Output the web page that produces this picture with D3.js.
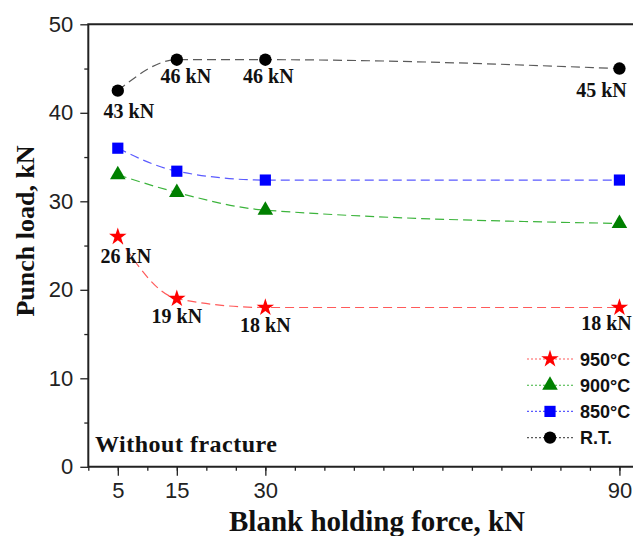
<!DOCTYPE html>
<html lang="en">
<head>
    <meta charset="UTF-8">
    <title>Punch load vs blank holding force</title>
    <style>
        body {
            margin: 0;
            background-color: #ffffff;
        }
        svg {
            display: block;
            background-color: #ffffff;
        }
    </style>
    <script src="https://d3js.org/d3.v7.min.js"></script>
</head>
<body>
    <svg width="633" height="536"></svg>
    <script>
        // data
        const forces = [5, 15, 30, 90];
        const seriesNames = ["950°C", "900°C", "850°C", "R.T."];
        const load950 = [26, 19, 18, 18];
        const load900 = [33, 31, 29, 27.5];
        const load850 = [36, 33.4, 32.4, 32.4];
        const loadRT = [42.5, 46, 46, 45];
        const labels950 = ["26 kN", "19 kN", "18 kN", "18 kN"];
        const labelsRT = ["43 kN", "46 kN", "46 kN", "45 kN"];
        const xTickLabels = [5, 15, 30, 90];
        const yTicks = [0, 10, 20, 30, 40, 50];

        const svg = d3.select("svg");
        const width = +svg.attr("width");
        const height = +svg.attr("height");

        const plotLeft = 88.3, plotTop = 24.3, plotBottom = 466.8;

        const x = d3.scaleLinear().domain([0, 92.3]).range([plotLeft, width]);
        const y = d3.scaleLinear().domain([0, 50]).range([plotBottom, plotTop]);

        const serif = "'Liberation Serif', 'Times New Roman', serif";
        const sans = "'Liberation Sans', Arial, sans-serif";

        const series = [
            {name: seriesNames[0], values: load950, color: "#ff0000", line: "#ff5a5a", symbol: d3.symbolStar, size: 95},
            {name: seriesNames[1], values: load900, color: "#008000", line: "#3cb43c", symbol: d3.symbolTriangle, size: 105},
            {name: seriesNames[2], values: load850, color: "#0000ff", line: "#5a5aff", symbol: d3.symbolSquare, size: 125},
            {name: seriesNames[3], values: loadRT, color: "#000000", line: "#5a5a5a", symbol: d3.symbolCircle, size: 120}
        ];

        // axes
        const xAxis = svg.append("g")
            .attr("transform", `translate(0,${plotBottom})`)
            .call(d3.axisBottom(x)
                .tickValues(d3.range(0, 91, 5))
                .tickSize(4)
                .tickFormat(""));
        xAxis.select(".domain").remove();
        xAxis.selectAll("line").attr("stroke", "#222").attr("stroke-width", 1.3);

        const xMajor = svg.append("g")
            .attr("transform", `translate(0,${plotBottom})`)
            .call(d3.axisBottom(x)
                .tickValues(xTickLabels)
                .tickSize(9)
                .tickPadding(7)
                .tickFormat(d3.format("d")));
        xMajor.select(".domain").remove();
        xMajor.selectAll("line").attr("stroke", "#222").attr("stroke-width", 1.3);
        xMajor.selectAll("text")
            .attr("font-family", sans)
            .attr("font-size", 22)
            .attr("fill", "#222");

        const yAxis = svg.append("g")
            .attr("transform", `translate(${plotLeft},0)`)
            .call(d3.axisLeft(y)
                .tickValues(d3.range(5, 50, 10))
                .tickSize(4)
                .tickFormat(""));
        yAxis.select(".domain").remove();
        yAxis.selectAll("line").attr("stroke", "#222").attr("stroke-width", 1.3);

        const yMajor = svg.append("g")
            .attr("transform", `translate(${plotLeft},0)`)
            .call(d3.axisLeft(y)
                .tickValues(yTicks)
                .tickSize(8)
                .tickPadding(7)
                .tickFormat(d3.format("d")));
        yMajor.select(".domain").remove();
        yMajor.selectAll("line").attr("stroke", "#222").attr("stroke-width", 1.3);
        yMajor.selectAll("text")
            .attr("font-family", sans)
            .attr("font-size", 22)
            .attr("fill", "#222");

        // frame (right side is cut off in the picture)
        svg.append("path")
            .attr("d", `M${width},${plotTop}H${plotLeft}V${plotBottom}H${width}`)
            .attr("fill", "none")
            .attr("stroke", "#222")
            .attr("stroke-width", 2);

        // lines
        const line = d3.line()
            .x((d, i) => x(forces[i]))
            .y(d => y(d))
            .curve(d3.curveMonotoneX);

        series.forEach(s => {
            svg.append("path")
                .attr("d", line(s.values))
                .attr("fill", "none")
                .attr("stroke", s.line)
                .attr("stroke-width", 1.2)
                .attr("stroke-dasharray", "9,5");
        });

        series.forEach(s => {
            svg.append("g").selectAll("path")
                .data(s.values)
                .join("path")
                .attr("transform", (d, i) => `translate(${x(forces[i])},${y(d)})`)
                .attr("d", d3.symbol().type(s.symbol).size(s.size))
                .attr("fill", s.color);
        });

        // value labels
        const rtOffsets = [[11, 27], [9, 23], [3, 23], [-18, 28]];
        const r950Offsets = [[8, 26], [0, 24], [0, 24], [-13, 22]];

        function addLabels(texts, values, offsets) {
            svg.append("g").selectAll("text")
                .data(texts)
                .join("text")
                .attr("x", (d, i) => x(forces[i]) + offsets[i][0])
                .attr("y", (d, i) => y(values[i]) + offsets[i][1])
                .attr("text-anchor", "middle")
                .attr("font-family", serif)
                .attr("font-weight", "bold")
                .attr("font-size", 20)
                .attr("fill", "#111")
                .text(d => d);
        }
        addLabels(labelsRT, loadRT, rtOffsets);
        addLabels(labels950, load950, r950Offsets);

        // note
        svg.append("text")
            .attr("x", 95)
            .attr("y", 452)
            .attr("font-family", serif)
            .attr("font-weight", "bold")
            .attr("font-size", 24)
            .attr("letter-spacing", 0.5)
            .attr("fill", "#111")
            .text("Without fracture");

        // legend
        const legend = svg.append("g").attr("transform", "translate(527,359)");
        series.forEach((s, i) => {
            const row = legend.append("g").attr("transform", `translate(0,${i * 26.2})`);
            row.append("line")
                .attr("x1", 0).attr("x2", 46)
                .attr("stroke", s.line)
                .attr("stroke-width", 1.1)
                .attr("stroke-dasharray", "2,2");
            row.append("path")
                .attr("transform", "translate(23,0)")
                .attr("d", d3.symbol().type(s.symbol).size(s.size))
                .attr("fill", s.color);
            row.append("text")
                .attr("x", 53)
                .attr("y", 6.5)
                .attr("font-family", sans)
                .attr("font-weight", "bold")
                .attr("font-size", 18)
                .attr("fill", "#111")
                .text(s.name);
        });

        // axis titles
        svg.append("text")
            .attr("x", 377)
            .attr("y", 531)
            .attr("text-anchor", "middle")
            .attr("font-family", serif)
            .attr("font-weight", "bold")
            .attr("font-size", 29)
            .attr("fill", "#111")
            .text("Blank holding force, kN");

        svg.append("text")
            .attr("transform", "translate(34,231) rotate(-90)")
            .attr("text-anchor", "middle")
            .attr("font-family", serif)
            .attr("font-weight", "bold")
            .attr("font-size", 26)
            .attr("fill", "#111")
            .text("Punch load, kN");
    </script>
</body>
</html>
